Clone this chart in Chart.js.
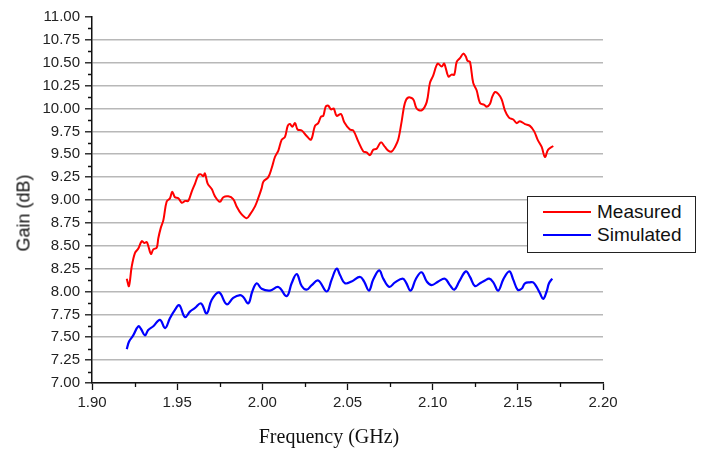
<!DOCTYPE html>
<html>
<head>
<meta charset="utf-8">
<script src="https://cdn.jsdelivr.net/npm/chart.js@4/dist/chart.umd.min.js"></script>
<style>
  body { margin: 0; background: #fff; }
  #wrap { position: relative; width: 705px; height: 449px; }
  #gainChart { position: absolute; left: 0; top: 0; }
  .ytitle {
    position: absolute; left: 24px; top: 213px;
    transform: translate(-50%, -50%) rotate(-90deg);
    font: 18px "Liberation Sans", Arial, sans-serif; color: #111; white-space: nowrap;
  }
  .xtitle {
    position: absolute; left: 329px; top: 436px;
    transform: translate(-50%, -50%);
    font: 20px "Liberation Serif", "Times New Roman", serif; color: #111; white-space: nowrap;
  }
  .legend {
    position: absolute; left: 527px; top: 196px; width: 167px; height: 55px;
    border: 1.5px solid #222; background: #fff;
    font: 19px "Liberation Sans", Arial, sans-serif; color: #111;
  }
  .legend .row { position: absolute; left: 0; height: 20px; line-height: 20px; }
  .legend .swatch { position: absolute; left: 15px; top: 9px; width: 48px; height: 2px; }
  .legend .label { position: absolute; left: 69px; top: 0; white-space: nowrap; }
</style>
</head>
<body>
<div id="wrap">
  <canvas id="gainChart" width="705" height="449"></canvas>
  <div class="ytitle">Gain (dB)</div>
  <div class="xtitle">Frequency (GHz)</div>
  <div class="legend" id="legend"></div>
</div>
<script>
// measured gain vs frequency
const freqMeasured = [1.9204, 1.9217, 1.9233, 1.9252, 1.9272, 1.9292, 1.9307, 1.9321, 1.9330, 1.9346,
  1.9360, 1.9380, 1.9389, 1.9403, 1.9419, 1.9438, 1.9458, 1.9471, 1.9487, 1.9507,
  1.9527, 1.9546, 1.9565, 1.9585, 1.9605, 1.9624, 1.9640, 1.9653, 1.9663, 1.9679,
  1.9703, 1.9722, 1.9751, 1.9771, 1.9800, 1.9829, 1.9849, 1.9875, 1.9908, 1.9927,
  1.9957, 1.9976, 1.9996, 2.0006, 2.0035, 2.0055, 2.0074, 2.0094, 2.0114, 2.0133,
  2.0149, 2.0162, 2.0176, 2.0192, 2.0207, 2.0231, 2.0260, 2.0286, 2.0309, 2.0328,
  2.0344, 2.0358, 2.0372, 2.0387, 2.0403, 2.0419, 2.0436, 2.0462, 2.0481, 2.0514,
  2.0534, 2.0563, 2.0593, 2.0612, 2.0632, 2.0651, 2.0671, 2.0696, 2.0720, 2.0739,
  2.0759, 2.0779, 2.0798, 2.0818, 2.0837, 2.0857, 2.0886, 2.0906, 2.0935, 2.0965,
  2.0984, 2.1003, 2.1029, 2.1053, 2.1068, 2.1092, 2.1111, 2.1127, 2.1141, 2.1160,
  2.1180, 2.1194, 2.1205, 2.1219, 2.1238, 2.1258, 2.1278, 2.1303, 2.1317, 2.1336,
  2.1350, 2.1366, 2.1385, 2.1405, 2.1424, 2.1448, 2.1473, 2.1493, 2.1512, 2.1542,
  2.1571, 2.1596, 2.1616, 2.1640, 2.1659, 2.1678, 2.1708];
const gainMeasured = [8.14, 8.06, 8.27, 8.42, 8.47, 8.55, 8.53, 8.54, 8.50, 8.41,
  8.46, 8.48, 8.58, 8.69, 8.78, 8.98, 9.02, 9.09, 9.03, 9.02,
  8.97, 8.99, 8.99, 9.09, 9.18, 9.27, 9.28, 9.26, 9.29, 9.18,
  9.12, 9.04, 8.98, 9.03, 9.04, 9.01, 8.93, 8.85, 8.80, 8.84,
  8.93, 9.02, 9.13, 9.20, 9.25, 9.35, 9.47, 9.54, 9.66, 9.69,
  9.81, 9.83, 9.80, 9.84, 9.77, 9.76, 9.70, 9.66, 9.81, 9.84,
  9.91, 9.92, 10.02, 10.03, 9.99, 10.00, 9.92, 9.94, 9.85, 9.77,
  9.76, 9.64, 9.53, 9.52, 9.49, 9.55, 9.56, 9.63, 9.58, 9.54,
  9.53, 9.58, 9.66, 9.86, 10.06, 10.12, 10.10, 10.00, 9.98, 10.07,
  10.28, 10.36, 10.49, 10.46, 10.49, 10.35, 10.37, 10.37, 10.51, 10.55,
  10.60, 10.57, 10.52, 10.51, 10.28, 10.20, 10.06, 10.04, 10.02, 10.05,
  10.13, 10.18, 10.16, 10.10, 9.98, 9.90, 9.88, 9.84, 9.86, 9.83,
  9.81, 9.75, 9.66, 9.58, 9.47, 9.55, 9.59];

// simulated gain vs frequency
const freqSimulated = [1.9204, 1.9217, 1.9242, 1.9272, 1.9288, 1.9311, 1.9330, 1.9360, 1.9399, 1.9429,
  1.9458, 1.9487, 1.9512, 1.9546, 1.9575, 1.9605, 1.9640, 1.9673, 1.9703, 1.9746,
  1.9791, 1.9829, 1.9869, 1.9888, 1.9918, 1.9941, 1.9967, 1.9996, 2.0045, 2.0094,
  2.0143, 2.0172, 2.0202, 2.0231, 2.0260, 2.0290, 2.0328, 2.0378, 2.0407, 2.0436,
  2.0456, 2.0485, 2.0524, 2.0573, 2.0597, 2.0626, 2.0651, 2.0686, 2.0710, 2.0745,
  2.0779, 2.0824, 2.0843, 2.0871, 2.0902, 2.0935, 2.0965, 2.0994, 2.1033, 2.1072,
  2.1101, 2.1127, 2.1156, 2.1195, 2.1219, 2.1248, 2.1278, 2.1307, 2.1332, 2.1356,
  2.1385, 2.1414, 2.1450, 2.1473, 2.1499, 2.1522, 2.1542, 2.1571, 2.1590, 2.1610,
  2.1630, 2.1649, 2.1669, 2.1683, 2.1702];
const gainSimulated = [7.37, 7.45, 7.52, 7.62, 7.59, 7.52, 7.58, 7.62, 7.69, 7.60,
  7.71, 7.80, 7.85, 7.72, 7.78, 7.82, 7.87, 7.76, 7.91, 7.99,
  7.86, 7.93, 7.96, 7.94, 7.87, 8.00, 8.09, 8.03, 8.01, 8.05,
  7.95, 8.09, 8.19, 8.06, 8.02, 8.07, 8.12, 8.00, 8.13, 8.25,
  8.18, 8.09, 8.11, 8.16, 8.11, 8.01, 8.13, 8.23, 8.14, 8.05,
  8.10, 8.14, 8.10, 8.01, 8.14, 8.21, 8.11, 8.07, 8.11, 8.14,
  8.07, 8.02, 8.11, 8.22, 8.16, 8.06, 8.09, 8.12, 8.14, 8.10,
  8.01, 8.13, 8.22, 8.13, 8.02, 8.03, 8.09, 8.10, 8.10, 8.05,
  7.98, 7.92, 8.00, 8.09, 8.14];

const seriesNames = ['Measured', 'Simulated'];
const seriesColors = ['#ff0000', '#0000ff'];

const xMin = 1.90, xMax = 2.20, xStep = 0.05;
const yMin = 7.00, yMax = 11.00, yStep = 0.25;

const toPoints = (xs, ys) => xs.map((x, i) => ({ x, y: ys[i] }));

// short minor ticks halfway between the labelled ones
const minorTicks = {
  id: 'minorTicks',
  afterDraw(chart) {
    const { ctx, scales: { x, y } } = chart;
    ctx.save();
    ctx.strokeStyle = '#111';
    ctx.lineWidth = 1.3;
    ctx.beginPath();
    for (let v = yMin + yStep / 2; v < yMax; v += yStep) {
      const py = Math.round(y.getPixelForValue(v)) + 0.5;
      ctx.moveTo(x.left - 4, py);
      ctx.lineTo(x.left, py);
    }
    for (let v = xMin + xStep / 2; v < xMax; v += xStep) {
      const px = Math.round(x.getPixelForValue(v)) + 0.5;
      ctx.moveTo(px, y.bottom);
      ctx.lineTo(px, y.bottom + 4);
    }
    ctx.stroke();
    ctx.restore();
  }
};

const tickFont = { family: '"Liberation Sans", Arial, sans-serif', size: 15 };

new Chart(document.getElementById('gainChart').getContext('2d'), {
  type: 'line',
  data: {
    datasets: [
      {
        label: seriesNames[0],
        data: toPoints(freqMeasured, gainMeasured),
        borderColor: seriesColors[0],
        borderWidth: 2,
        pointRadius: 0,
        tension: 0.35,
        fill: false
      },
      {
        label: seriesNames[1],
        data: toPoints(freqSimulated, gainSimulated),
        borderColor: seriesColors[1],
        borderWidth: 2.2,
        pointRadius: 0,
        tension: 0.4,
        fill: false
      }
    ]
  },
  options: {
    responsive: false,
    animation: false,
    layout: { padding: { left: 0, top: 17, right: 102, bottom: 0 } },
    plugins: {
      legend: { display: false },
      tooltip: { enabled: false }
    },
    scales: {
      x: {
        type: 'linear',
        min: xMin,
        max: xMax,
        afterFit: s => { s.height = 66; },
        afterBuildTicks: s => {
          s.ticks = [];
          for (let i = 0; i <= Math.round((xMax - xMin) / xStep); i++) s.ticks.push({ value: xMin + i * xStep });
        },
        ticks: {
          color: '#222',
          font: tickFont,
          padding: 4,
          maxRotation: 0,
          autoSkip: false,
          callback: v => v.toFixed(2)
        },
        grid: { drawOnChartArea: false, tickLength: 7, tickColor: '#111', tickWidth: 1.3 },
        border: { color: '#111', width: 1.5 }
      },
      y: {
        min: yMin,
        max: yMax,
        afterFit: s => { s.width = 92; },
        afterBuildTicks: s => {
          s.ticks = [];
          for (let i = 0; i <= Math.round((yMax - yMin) / yStep); i++) s.ticks.push({ value: yMin + i * yStep });
        },
        ticks: {
          color: '#222',
          font: tickFont,
          padding: 5,
          autoSkip: false,
          callback: v => v.toFixed(2)
        },
        grid: {
          color: c => (c.tick && c.tick.value >= yMax - 1e-6) ? 'rgba(0,0,0,0)' : '#b8b8b8',
          lineWidth: 1.6,
          tickLength: 7,
          tickColor: '#111',
          tickWidth: 1.3
        },
        border: { color: '#111', width: 1.5 }
      }
    }
  },
  plugins: [minorTicks]
});

// legend box
const legendEl = document.getElementById('legend');
seriesNames.forEach((name, i) => {
  const row = document.createElement('div');
  row.className = 'row';
  row.style.top = (5 + i * 23) + 'px';
  row.innerHTML = '<span class="swatch" style="background:' + seriesColors[i] + '"></span>' +
                  '<span class="label">' + name + '</span>';
  legendEl.appendChild(row);
});
</script>
</body>
</html>
